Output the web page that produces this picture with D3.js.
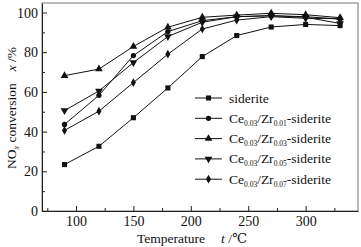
<!DOCTYPE html>
<html>
<head>
<meta charset="utf-8">
<script src="https://cdn.jsdelivr.net/npm/d3@7"></script>
<style>
  body { margin: 0; background: #fff; }
  text { font-family: "Liberation Serif", "DejaVu Serif", serif; fill: #111; }
</style>
</head>
<body>
<div id="chart"></div>
<script>
const temps = [90, 120, 150, 180, 210, 240, 270, 300, 330];
const siderite = [23.4, 32.6, 47, 62, 77.8, 88.4, 92.7, 94, 93.4];
const zr001 = [43.6, 58.3, 78.3, 90.4, 95.9, 97.9, 98.4, 97.9, 96.7];
const zr003 = [68.2, 71.5, 82.9, 92.6, 97.6, 98.7, 99.6, 98.9, 97.4];
const zr005 = [50.6, 60.5, 74.8, 87.9, 95.1, 97.9, 98.4, 97.6, 94.5];
const zr007 = [40.6, 50.3, 64.7, 79, 91.7, 96.2, 97.9, 97.1, 96.9];
const xTicks = [100, 150, 200, 250, 300];
const yTicks = [0, 20, 40, 60, 80, 100];

const series = [
  { name: 'siderite', sub: null, values: siderite, marker: 'square' },
  { name: 'Zr', sub: '0.01', values: zr001, marker: 'circle' },
  { name: 'Zr', sub: '0.03', values: zr003, marker: 'triangle' },
  { name: 'Zr', sub: '0.05', values: zr005, marker: 'tdown' },
  { name: 'Zr', sub: '0.07', values: zr007, marker: 'diamond' }
];

const W = 361, H = 247;
const margin = { top: 3, right: 3, bottom: 36, left: 42 };
const width = W - margin.left - margin.right;
const height = H - margin.top - margin.bottom;

const svg = d3.select('#chart').append('svg')
  .attr('width', W).attr('height', H);
const g = svg.append('g').attr('transform', `translate(${margin.left},${margin.top})`);

const x = d3.scaleLinear().domain([70.4, 345.6]).range([0, width]);
const y = d3.scaleLinear().domain([0, 104.8]).range([height, 0]);

// frame
g.append('rect').attr('width', width).attr('height', height)
  .attr('fill', 'none').attr('stroke', '#777').attr('stroke-width', 1);

// x axis (ticks inward)
g.append('g').attr('transform', `translate(0,${height})`)
  .call(d3.axisBottom(x).tickValues(xTicks).tickSize(-5).tickPadding(5).tickSizeOuter(0));
g.append('g').attr('transform', `translate(0,${height})`)
  .call(d3.axisBottom(x).tickValues(d3.range(75, 345, 50)).tickSize(-3).tickFormat('').tickSizeOuter(0))
  .select('.domain').remove();

g.append('g')
  .call(d3.axisLeft(y).tickValues(yTicks).tickSize(-5).tickPadding(4).tickSizeOuter(0));
g.append('g')
  .call(d3.axisLeft(y).tickValues(d3.range(10, 101, 20)).tickSize(-3).tickFormat('').tickSizeOuter(0))
  .select('.domain').remove();

svg.selectAll('.domain').attr('stroke', '#222');
svg.selectAll('.tick line').attr('stroke', '#222');
svg.selectAll('.tick text').style('font-family', '"Liberation Serif", serif').style('font-size', '14px').attr('fill', '#111');

// markers
const symbols = {
  square: d3.symbol(d3.symbolSquare, 26),
  circle: d3.symbol(d3.symbolCircle, 22),
  triangle: d3.symbol(d3.symbolTriangle, 26),
  tdown: d3.symbol(d3.symbolTriangle, 26),
  diamond: d3.symbol(d3.symbolDiamond, 22)
};

const line = d3.line().x((d, i) => x(temps[i])).y(d => y(d));

series.forEach(s => {
  g.append('path').datum(s.values)
    .attr('d', line).attr('fill', 'none').attr('stroke', '#111').attr('stroke-width', 1);
  g.selectAll(null).data(s.values).join('path')
    .attr('d', symbols[s.marker])
    .attr('transform', (d, i) => `translate(${x(temps[i])},${y(d)})` + (s.marker === 'tdown' ? ' rotate(180)' : ''))
    .attr('fill', '#111');
});

// legend
const legend = svg.append('g').attr('transform', 'translate(195,98)');
series.forEach((s, i) => {
  const row = legend.append('g').attr('transform', `translate(0,${i * 20.3})`);
  row.append('line').attr('x1', 0).attr('x2', 27).attr('stroke', '#111');
  row.append('path').attr('d', symbols[s.marker])
    .attr('transform', 'translate(13.5,0)' + (s.marker === 'tdown' ? ' rotate(180)' : ''))
    .attr('fill', '#111');
  const t = row.append('text').attr('x', 34).attr('y', 4.5).style('font-size', '13.5px');
  if (!s.sub) {
    t.text(s.name);
  } else {
    t.append('tspan').text('Ce');
    t.append('tspan').attr('dy', 3).style('font-size', '7.5px').text('0.03');
    t.append('tspan').attr('dy', -3).text('/Zr');
    t.append('tspan').attr('dy', 3).style('font-size', '7.5px').text(s.sub);
    t.append('tspan').attr('dy', -3).text('-siderite');
  }
});

// axis titles
const xt = svg.append('text').attr('x', 192).attr('y', 243).attr('text-anchor', 'middle')
  .style('font-size', '13.5px');
xt.append('tspan').text('Temperature');
xt.append('tspan').attr('dx', 16).style('font-style', 'italic').text('t');
xt.append('tspan').text(' /\u2103');

const yt = svg.append('text').attr('transform', 'translate(16,108) rotate(-90)')
  .attr('text-anchor', 'middle').style('font-size', '13.5px');
yt.append('tspan').text('NO');
yt.append('tspan').attr('dy', 3).style('font-size', '8px').style('font-style', 'italic').text('x');
yt.append('tspan').attr('dy', -3).text(' conversion');
yt.append('tspan').attr('dx', 12).style('font-style', 'italic').text('x');
yt.append('tspan').text(' /%');
</script>
</body>
</html>
